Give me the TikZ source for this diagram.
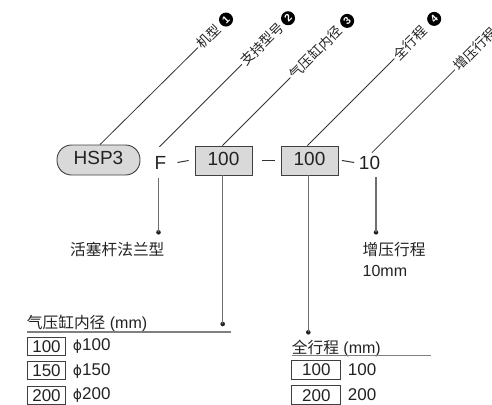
\documentclass[tikz,border=0pt]{standalone}
\usepackage{fontspec}
\setmainfont{Liberation Sans}
\newfontfamily\cjk{Noto Sans CJK SC}
\newfontfamily\dvs{DejaVu Sans}
\usetikzlibrary{calc}
\definecolor{txt}{HTML}{222222}
\definecolor{leadc}{HTML}{333333}
\definecolor{stemc}{HTML}{6E6E6E}
\definecolor{boxf}{HTML}{D9D9D9}
\definecolor{boxd}{HTML}{404040}
\definecolor{ulc}{HTML}{808080}
\newcommand\phisym{{\dvs\fontsize{14}{14}\selectfont ϕ}}
\begin{document}
\begin{tikzpicture}[x=1pt,y=-1pt,
  mainf/.style={font=\fontsize{19}{19}\selectfont, text=txt},
  plain/.style={mainf, inner sep=0pt},
  pill/.style={mainf, draw=boxd, fill=boxf, line width=0.9pt, rounded corners=14.5pt,
    minimum width=83pt, minimum height=30pt, inner sep=0pt, text height=13.5pt, text depth=4pt},
  gbox/.style={mainf, draw=boxd, fill=boxf, line width=0.9pt,
    minimum width=57pt, minimum height=29pt, inner sep=0pt, text height=13.5pt, text depth=4pt},
  lead/.style={draw=leadc, line width=0.8pt},
  dashseg/.style={draw=leadc, line width=1pt},
  stem/.style={draw=stemc, line width=1.1pt},
  dot/.style={circle, fill=txt, inner sep=0pt, minimum size=4.6pt},
  rlab/.style={font=\cjk\fontsize{13.5}{13.5}\selectfont, text=txt, rotate=45, inner sep=1.5pt, anchor=west},
  numc/.style={circle, fill=black, text=white, inner sep=0pt, minimum size=14pt, rotate=45,
    anchor=west, font=\bfseries\fontsize{10.5}{10.5}\selectfont},
  lowtxt/.style={font=\fontsize{16}{16}\selectfont, text=txt, inner sep=0pt, anchor=west},
  cjktxt/.style={lowtxt, font=\cjk\fontsize{15.7}{15.7}\selectfont},
  tabtxt/.style={font=\fontsize{17}{17}\selectfont, text=txt, inner sep=0pt, anchor=west},
  tbox/.style={font=\fontsize{17}{17}\selectfont, text=txt, draw=boxd, line width=0.8pt,
    inner sep=0pt, text height=12pt, text depth=0pt},
  uline/.style={draw=ulc, line width=1.2pt}
]
\clip (0,0) rectangle (492,404);

% code line
\node[pill] (hsp) at (98.5,160) {HSP3};
\node[plain] (f) at (160.5,162.5) {F};
\node[gbox] (b1) at (223.5,160.5) {100};
\node[gbox] (b2) at (309.5,160.5) {100};
\node[plain] (ten) at (369.5,162.5) {10};

\draw[dashseg] ($(f.east)+(11,0)$) -- ($(b1.west)+(-6,0)$);
\draw[dashseg] ($(b1.east)+(9.5,0)$) -- ($(b2.west)+(-6,0)$);
\draw[dashseg] ($(b2.east)+(3.5,0)$) -- ($(ten.west)+(-4.5,0)$);

% leader lines with rotated labels
\draw[lead] ($(hsp.north)+(1.5,0)$) -- ++(98,-97) coordinate (e1);
\draw[lead] ($(f.north)+(-1,-9)$) -- ++(82.5,-82.5) coordinate (e2);
\draw[lead] ($(b1.north)+(-1,0)$) -- ++(68,-68) coordinate (e3);
\draw[lead] ($(b2.north)+(-2,0)$) -- ++(87,-87) coordinate (e4);
\draw[lead] ($(ten.north)+(2.5,-3)$) -- ++(83,-83) coordinate (e5);

\node[rlab] (t1) at (e1) {机型};
\node[rlab] (t2) at (e2) {支持型号};
\node[rlab] (t3) at (e3) {气压缸内径};
\node[rlab] (t4) at (e4) {全行程};
\node[rlab] (t5) at (e5) {增压行程};

\node[numc] (c1) at ($(t1.east)!-2pt!(t1.west)$) {1};
\node[numc] (c2) at ($(t2.east)!-0.5pt!(t2.west)$) {2};
\node[numc] (c3) at ($(t3.east)!-2pt!(t3.west)$) {3};
\node[numc] (c4) at ($(t4.east)!-5pt!(t4.west)$) {4};

% stems
\node[dot] (d1) at (158.5,232.3) {};
\node[dot] (d2) at (222.7,324) {};
\node[dot] (d3) at (308.3,332.3) {};
\node[dot] (d4) at (376,232.3) {};
\draw[stem] ($(f.south)+(-2,9)$) -- (d1.center);
\draw[stem] (b1.south -| d2) -- (d2.center);
\draw[stem] (b2.south -| d3) -- (d3.center);
\draw[stem] ($(ten.south -| d4)+(0,8)$) -- (d4.center);

% lower labels
\node[cjktxt] (flange) at (70,249.3) {活塞杆法兰型};
\node[cjktxt] (boost) at (362.5,250) {增压行程};
\node[lowtxt] (boostv) at (362.5,271) {10mm};

% bore table
\node[lowtxt] (h1) at (26.7,323.3) {{\cjk\fontsize{15.7}{15.7}\selectfont 气压缸内径} (mm)};
\draw[uline] (h1.south west |- 0,332) -- (230.7,332);
\node[tbox, minimum width=38.5pt, minimum height=18pt] (r1) at (46.5,346.3) {100};
\node[tbox, minimum width=38.5pt, minimum height=18pt] (r2) at (46.5,370.5) {150};
\node[tbox, minimum width=38.5pt, minimum height=18pt] (r3) at (46.5,395) {200};
\node[tabtxt] (p1) at (72.7,346.5) {\phisym100};
\node[tabtxt] (p2) at (72.7,370.7) {\phisym150};
\node[tabtxt] (p3) at (72.7,395) {\phisym200};

% stroke table
\node[lowtxt] (h2) at (291.7,348.3) {{\cjk\fontsize{15.7}{15.7}\selectfont 全行程} (mm)};
\draw[uline] (h2.south west |- 0,355.7) -- (430.7,355.7);
\node[tbox, minimum width=49pt, minimum height=19pt] (s1) at (316.3,369.7) {100};
\node[tbox, minimum width=49pt, minimum height=19pt] (s2) at (316.3,395) {200};
\node[tabtxt] (q1) at (347.7,369.7) {100};
\node[tabtxt] (q2) at (347.7,395) {200};
\end{tikzpicture}
\end{document}
